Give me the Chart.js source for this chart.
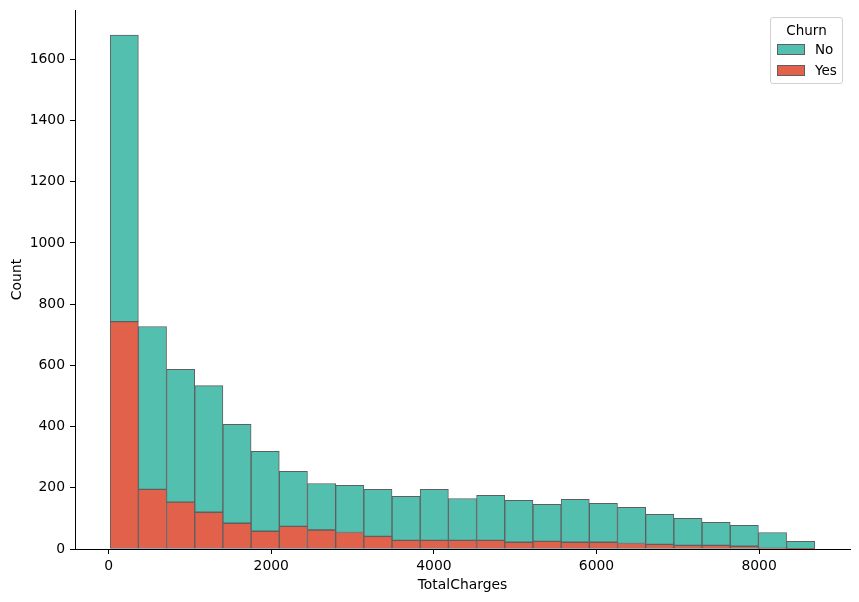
<!DOCTYPE html>
<html>
<head>
<meta charset="utf-8">
<script src="https://cdn.jsdelivr.net/npm/chart.js@4/dist/chart.umd.min.js"></script>
<style>
  html, body { margin: 0; padding: 0; background: #fff; }
  #wrap { position: relative; width: 859px; height: 602px; font-family: "DejaVu Sans", sans-serif; }
  #legend { position: absolute; left: 770px; top: 17px; width: 71px; height: 65px;
    border: 1px solid #d0d0d0; border-radius: 3px; background: rgba(255,255,255,0.8);
    font-size: 13.5px; color: #000; }
  #legend .title { position: absolute; left: 0; width: 100%; top: 4px; text-align: center; }
  #legend .row { position: absolute; left: 6px; height: 12px; }
  #legend .sw { position: absolute; left: 0; top: 0; width: 26px; height: 9px; border: 1px solid #5f5f5f; }
  #legend .lab { position: absolute; left: 38px; top: -3px; white-space: nowrap; }
</style>
</head>
<body>
<div id="wrap">
  <canvas id="c" width="859" height="602"></canvas>
  <div id="legend">
    <div class="title">Churn</div>
    <div class="row" style="top:26px"><div class="sw" style="background:#53bfaf"></div><div class="lab">No</div></div>
    <div class="row" style="top:47px"><div class="sw" style="background:#e1614a"></div><div class="lab">Yes</div></div>
  </div>
</div>
<script>
// Histogram bin edges for TotalCharges
const binEdges = [18.8, 365.44, 712.08, 1058.72, 1405.36, 1752.0, 2098.64, 2445.28, 2791.92, 3138.56,
  3485.2, 3831.84, 4178.48, 4525.12, 4871.76, 5218.4, 5565.04, 5911.68, 6258.32, 6604.96,
  6951.6, 7298.24, 7644.88, 7991.52, 8338.16, 8684.8];
// Counts per bin
const churnNo  = [936, 532, 434, 414, 323, 261, 180, 152, 154, 154, 144, 167, 137, 147, 137, 121, 140, 127, 118, 98, 88, 75, 68, 52, 24];
const churnYes = [743, 195, 153, 120, 84, 58, 74, 62, 54, 41, 28, 28, 28, 28, 22, 25, 22, 22, 18, 15, 12, 12, 9, 2, 1];
const xTicks = [0, 2000, 4000, 6000, 8000];
const yTicks = [0, 200, 400, 600, 800, 1000, 1200, 1400, 1600];

const centers = churnNo.map((_, i) => (binEdges[i] + binEdges[i + 1]) / 2);
const toPts = arr => arr.map((v, i) => ({ x: centers[i], y: v }));

const FONT = { family: "'DejaVu Sans', sans-serif", size: 13.9 };

new Chart(document.getElementById('c'), {
  type: 'bar',
  data: {
    datasets: [
      { label: 'Yes', data: toPts(churnYes), backgroundColor: '#e1614a', borderColor: '#5f5f5f', borderWidth: 1,
        barPercentage: 1, categoryPercentage: 1, borderSkipped: false },
      { label: 'No', data: toPts(churnNo), backgroundColor: '#53bfaf', borderColor: '#5f5f5f', borderWidth: 1,
        barPercentage: 1, categoryPercentage: 1, borderSkipped: false }
    ]
  },
  options: {
    responsive: false,
    animation: false,
    devicePixelRatio: 1,
    layout: { padding: { left: 0, top: 10, right: 9, bottom: 0 } },
    plugins: { legend: { display: false }, tooltip: { enabled: false } },
    scales: {
      x: {
        type: 'linear', stacked: true, offset: false,
        min: -414, max: 9118,
        afterBuildTicks: s => { s.ticks = xTicks.map(v => ({ value: v })); },
        afterFit: s => { s.height = 53; s.paddingLeft = 0; s.paddingRight = 0; },
        ticks: { font: FONT, color: '#000', padding: 4, maxRotation: 0, callback: v => String(v) },
        grid: { display: true, drawOnChartArea: false, drawTicks: true, tickLength: 5, color: '#000', offset: false },
        border: { display: true, color: '#000', width: 1 },
        title: { display: true, text: 'TotalCharges', font: FONT, color: '#000', padding: { top: 0, bottom: 8 } }
      },
      y: {
        type: 'linear', stacked: true,
        min: 0, max: 1761,
        afterBuildTicks: s => { s.ticks = yTicks.map(v => ({ value: v })); },
        afterFit: s => { s.width = 75; s.paddingTop = 0; s.paddingBottom = 0; },
        ticks: { font: FONT, color: '#000', padding: 5, callback: v => String(v) },
        grid: { display: true, drawOnChartArea: false, drawTicks: true, tickLength: 5, color: '#000' },
        border: { display: true, color: '#000', width: 1 },
        title: { display: true, text: 'Count', font: FONT, color: '#000', padding: { top: 9, bottom: 0 } }
      }
    }
  }
});
</script>
</body>
</html>
